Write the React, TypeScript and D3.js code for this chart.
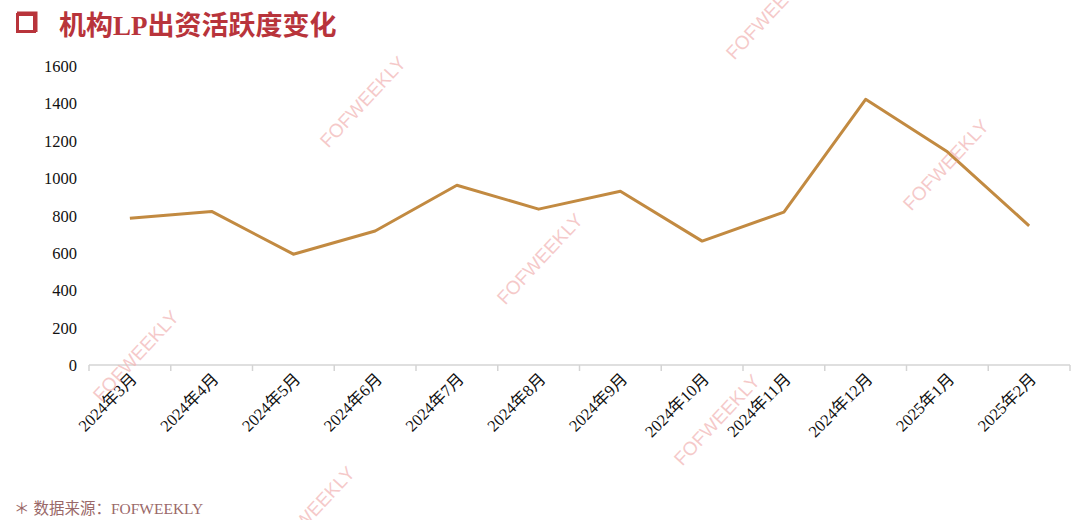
import React from "react";
import * as d3 from "d3";

const categories = [
  "2024年3月", "2024年4月", "2024年5月", "2024年6月", "2024年7月", "2024年8月",
  "2024年9月", "2024年10月", "2024年11月", "2024年12月", "2025年1月", "2025年2月",
];
const values = [785, 822, 593, 717, 962, 834, 930, 663, 818, 1422, 1141, 745];
const yTicks = [0, 200, 400, 600, 800, 1000, 1200, 1400, 1600];
const watermarkCenters: [number, number][] = [
  [770, 15], [364, 103], [947, 166], [541, 260], [137, 357], [718, 421], [313, 513], [-40, 200],
];

const W = 1080;
const H = 520;
const left = 89;
const right = 1070;
const top = 66;
const bottom = 365;

export default function App() {
  const x = d3.scaleBand<string>().domain(categories).range([left, right]).padding(0);
  const y = d3.scaleLinear().domain([0, 1600]).range([bottom, top]);
  const line = d3
    .line<number>()
    .x((_, i) => (x(categories[i]) as number) + x.bandwidth() / 2)
    .y((d) => y(d));
  const tickXs = categories.map((c) => x(c) as number).concat([right]);
  const serif = "'Liberation Serif', 'Times New Roman', 'Noto Sans CJK SC', serif";

  return (
    <svg width={W} height={H} style={{ position: "absolute", left: 0, top: 0, background: "#fff" }}>
      <rect x={0} y={0} width={W} height={H} fill="#fff" />
      {/* title */}
      <rect x={17.5} y={14.5} width={17} height={17} fill="none" stroke="#b8343b" strokeWidth={3} />
      <path d="M17 12.5 H36.5 V32" fill="none" stroke="#b8343b" strokeWidth={2} />
      <text x={59} y={35} fontSize={27} fontWeight="bold" fill="#b8343b" fontFamily={serif}>
        机构LP出资活跃度变化
      </text>

      {/* y axis labels */}
      {yTicks.map((t) => (
        <text key={t} x={77} y={y(t) + 6} textAnchor="end" fontSize={16.5} fill="#111" fontFamily={serif}>
          {t}
        </text>
      ))}

      {/* x axis */}
      <line x1={left} x2={right} y1={bottom} y2={bottom} stroke="#d4d4d4" strokeWidth={1.5} />
      {tickXs.map((tx, i) => (
        <line key={i} x1={tx} x2={tx} y1={bottom} y2={bottom + 6} stroke="#d4d4d4" strokeWidth={1.5} />
      ))}
      {categories.map((c) => {
        const cx = (x(c) as number) + x.bandwidth() / 2;
        return (
          <text
            key={c}
            transform={`translate(${cx + 8},${bottom + 15}) rotate(-45)`}
            textAnchor="end"
            fontSize={16.5}
            fill="#111"
            fontFamily={serif}
          >
            {c}
          </text>
        );
      })}

      {/* line */}
      <path d={line(values) || ""} fill="none" stroke="#c28a41" strokeWidth={3} strokeLinejoin="round" />

      {/* watermarks */}
      {watermarkCenters.map(([wx, wy], i) => (
        <text
          key={i}
          transform={`translate(${wx},${wy}) rotate(-47)`}
          textAnchor="middle"
          dominantBaseline="middle"
          fontSize={19}
          fill="#f2b8b8"
          fillOpacity={0.75}
          fontFamily="'Liberation Sans', Arial, sans-serif"
        >
          FOFWEEKLY
        </text>
      ))}

      {/* footer */}
      <text x={14} y={514} fontSize={15.5} fill="#9a6868" fontFamily={serif}>
        ＊ 数据来源：FOFWEEKLY
      </text>
    </svg>
  );
}
